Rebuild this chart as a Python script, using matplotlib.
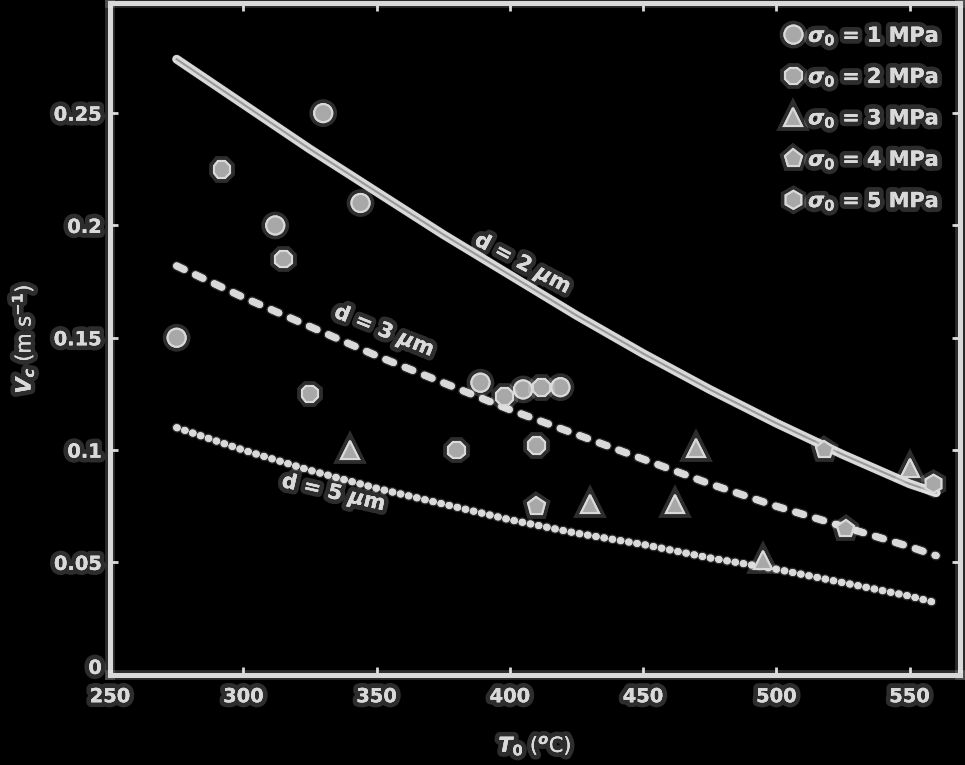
import matplotlib
matplotlib.use("Agg")
import matplotlib.pyplot as plt
import matplotlib.patheffects as pe
import matplotlib.transforms as mtransforms

# fitted curves, T in degC, V in m/s
curve_T = [275, 300, 325, 350, 375, 400, 425, 450, 475, 500, 525, 550, 560]
v_d2 = [0.274, 0.254, 0.234, 0.215, 0.196, 0.178, 0.160, 0.143, 0.127, 0.112, 0.098, 0.085, 0.081]
v_d3 = [0.182, 0.168, 0.155, 0.142, 0.130, 0.118, 0.107, 0.096, 0.085, 0.075, 0.066, 0.057, 0.053]
v_d5 = [0.110, 0.100, 0.091, 0.083, 0.076, 0.069, 0.063, 0.058, 0.052, 0.047, 0.041, 0.035, 0.032]

# measured points per stress level
T_1mpa = [275, 312, 330, 344, 389, 405, 419]
V_1mpa = [0.150, 0.200, 0.250, 0.210, 0.130, 0.127, 0.128]
T_2mpa = [292, 315, 325, 380, 398, 412, 410]
V_2mpa = [0.225, 0.185, 0.125, 0.100, 0.124, 0.128, 0.102]
T_3mpa = [340, 430, 462, 470, 495, 550]
V_3mpa = [0.100, 0.076, 0.076, 0.101, 0.051, 0.092]
T_4mpa = [410, 518, 526]
V_4mpa = [0.075, 0.100, 0.065]
T_5mpa = [559]
V_5mpa = [0.085]

xticks = [250, 300, 350, 400, 450, 500, 550]
yticks = [0, 0.05, 0.1, 0.15, 0.2, 0.25]
ytick_labels = ["0", "0.05", "0.1", "0.15", "0.2", "0.25"]

fg = "#d9d9d9"
mk = "#a8a8a8"
glow = [pe.withStroke(linewidth=7, foreground=(1, 1, 1, 0.18)), pe.Normal()]

plt.rcParams["font.family"] = ["DejaVu Sans"]
plt.rcParams["font.weight"] = "bold"

fig = plt.figure(figsize=(9.65, 7.65), dpi=100, facecolor="black")
ax = fig.add_axes([0.114, 0.118, 0.881, 0.878], facecolor="black")

ax.plot(curve_T, v_d2, color=fg, lw=6, solid_capstyle="round", path_effects=glow)
ax.plot(curve_T, v_d2, color="#9a9a9a", lw=1.5)
ax.plot(curve_T, v_d3, color=fg, lw=5, dashes=(1.2, 1.8), dash_capstyle="round", path_effects=glow)
ax.plot(curve_T, v_d5, color=fg, lw=5, dashes=(0.1, 1.1), dash_capstyle="round", path_effects=glow)

series = [
    (T_1mpa, V_1mpa, "o", "1"),
    (T_2mpa, V_2mpa, "8", "2"),
    (T_3mpa, V_3mpa, "^", "3"),
    (T_4mpa, V_4mpa, "p", "4"),
    (T_5mpa, V_5mpa, "h", "5"),
]
for xs, ys, m, s in series:
    ax.plot(xs, ys, ls="none", marker=m, ms=13, mfc=mk, mec=fg, mew=1.5,
            label=r"$\sigma_0$ = " + s + " MPa", path_effects=glow)

ax.text(405, 0.183, r"d = 2 $\mu$m", color=fg, fontsize=15, rotation=-28,
        ha="center", va="center", path_effects=glow)
ax.text(353, 0.153, r"d = 3 $\mu$m", color=fg, fontsize=15, rotation=-22,
        ha="center", va="center", path_effects=glow)
ax.text(334, 0.081, r"d = 5 $\mu$m", color=fg, fontsize=15, rotation=-13,
        ha="center", va="center", path_effects=glow)

ax.set_xlim(250, 569)
ax.set_ylim(0, 0.299)
ax.set_xticks(xticks)
ax.set_yticks(yticks)
ax.set_yticklabels(ytick_labels)
ax.tick_params(direction="in", top=True, right=True, length=6, width=2,
               colors=fg, labelsize=14, pad=6)
ax.tick_params(axis="x", pad=9)
for lab in ax.get_xticklabels() + ax.get_yticklabels():
    lab.set_path_effects(glow)
# lift the "0" a little so it sits above the "250"
zero = ax.get_yticklabels()[0]
zero.set_transform(zero.get_transform() + mtransforms.ScaledTranslation(0, 6 / 72, fig.dpi_scale_trans))
for sp in ax.spines.values():
    sp.set_color(fg)
    sp.set_linewidth(3.5)
    sp.set_path_effects(glow)

ax.set_xlabel(r"$T_0$ ($^o$C)", color=fg, fontsize=15, labelpad=19, path_effects=glow)
ax.set_ylabel(r"$V_c$ (m s$^{-1}$)", color=fg, fontsize=15, labelpad=12, path_effects=glow)

leg = ax.legend(loc="upper right", frameon=False, fontsize=15, labelspacing=0.85,
                handletextpad=0.2, borderaxespad=0.6, handlelength=1.0)
for t in leg.get_texts():
    t.set_color(fg)
    t.set_path_effects(glow)

fig.savefig("out.png", dpi=100, facecolor="black")
